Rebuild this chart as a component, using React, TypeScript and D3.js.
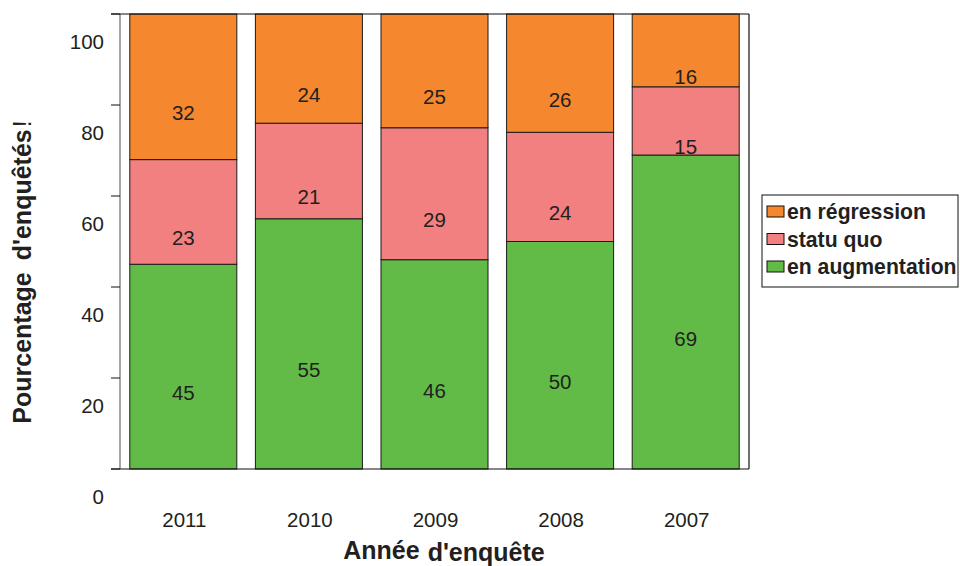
import React from "react";
import * as d3 from "d3";

const years = ["2011", "2010", "2009", "2008", "2007"];
const augmentation = [45, 55, 46, 50, 69];
const statuQuo = [23, 21, 29, 24, 15];
const regression = [32, 24, 25, 26, 16];
const seriesNames = ["en augmentation", "statu quo", "en régression"];
const seriesColors = ["#62BB47", "#F28080", "#F5872E"];
const yTicks = [0, 20, 40, 60, 80, 100];

const W = 960;
const H = 566;
const plotLeft = 120;
const plotRight = 749;
const plotTop = 14;
const plotBottom = 469;
const labelShift = 26;
const font = "'Liberation Sans', Arial, Helvetica, sans-serif";
const textColor = "#231F20";

export default function App() {
  const x = d3
    .scaleBand<string>()
    .domain(years)
    .range([plotLeft, plotRight])
    .paddingInner(0.148)
    .paddingOuter(0.078);
  const y = d3.scaleLinear().domain([0, 100]).range([plotBottom, plotTop]);

  const rows = years.map((yr, i) => ({
    year: yr,
    aug: augmentation[i],
    sq: statuQuo[i],
    reg: regression[i],
  }));
  const stack = d3.stack<any>().keys(["aug", "sq", "reg"]);
  const layers = stack(rows);

  const legendItems = [
    { name: seriesNames[2], color: seriesColors[2] },
    { name: seriesNames[1], color: seriesColors[1] },
    { name: seriesNames[0], color: seriesColors[0] },
  ];

  return (
    <svg
      width={W}
      height={H}
      style={{ position: "absolute", left: 0, top: 0, display: "block", background: "#fff" }}
      fontFamily={font}
    >
      <rect x={0} y={0} width={W} height={H} fill="#fff" />
      {/* bars */}
      {layers.map((layer, li) => (
        <g key={li}>
          {layer.map((d, i) => {
            const x0 = x(years[i])!;
            const yTop = y(d[1]);
            const yBot = y(d[0]);
            return (
              <rect
                key={i}
                x={x0}
                y={yTop}
                width={x.bandwidth()}
                height={yBot - yTop}
                fill={seriesColors[li]}
                stroke="#1a1a1a"
                strokeWidth={1}
              />
            );
          })}
        </g>
      ))}
      {/* value labels */}
      {layers.map((layer, li) => (
        <g key={"l" + li}>
          {layer.map((d, i) => (
            <text
              key={i}
              x={x(years[i])! + x.bandwidth() / 2}
              y={(y(d[0]) + y(d[1])) / 2 + labelShift}
              textAnchor="middle"
              dominantBaseline="central"
              fontSize={20.5}
              fill={textColor}
            >
              {d[1] - d[0]}
            </text>
          ))}
        </g>
      ))}
      {/* frame */}
      <line x1={plotLeft} x2={plotLeft} y1={plotTop} y2={plotBottom} stroke="#888" strokeWidth={1.5} />
      <line x1={plotLeft - 9} x2={plotRight} y1={plotTop} y2={plotTop} stroke="#111" strokeWidth={1.2} />
      <line x1={plotLeft - 9} x2={plotRight} y1={plotBottom} y2={plotBottom} stroke="#111" strokeWidth={1.2} />
      <line x1={plotRight} x2={plotRight} y1={plotTop} y2={plotBottom} stroke="#111" strokeWidth={1.2} />
      {/* y ticks */}
      {yTicks.map((t) => (
        <g key={t}>
          <line x1={plotLeft - 9} x2={plotLeft} y1={y(t)} y2={y(t)} stroke="#111" strokeWidth={1} />
          <text
            x={104}
            y={y(t) + labelShift + 1}
            textAnchor="end"
            dominantBaseline="central"
            fontSize={20.5}
            fill={textColor}
          >
            {t}
          </text>
        </g>
      ))}
      {/* x labels */}
      {years.map((yr) => (
        <text
          key={yr}
          x={x(yr)! + x.bandwidth() / 2 + 1}
          y={519}
          textAnchor="middle"
          dominantBaseline="central"
          fontSize={20.5}
          fill={textColor}
        >
          {yr}
        </text>
      ))}
      {/* axis titles */}
      <text x={444} y={559} textAnchor="middle" fontSize={25} fontWeight="bold" fill={textColor}>
        <tspan>Année</tspan>
        <tspan dx={8} dy={2}>d'enquête</tspan>
      </text>
      <text
        transform={`translate(31,${272}) rotate(-90)`}
        textAnchor="middle"
        fontSize={25}
        fontWeight="bold"
        fill={textColor}
      >
        <tspan>Pourcentage</tspan>
        <tspan dx={12}>d'enquêtés</tspan>
        <tspan fontWeight="normal" dx={2}>!</tspan>
      </text>
      {/* legend */}
      <rect x={762} y={195} width={196} height={92} fill="#fff" stroke="#111" strokeWidth={1} />
      {legendItems.map((it, i) => (
        <g key={it.name} transform={`translate(0,${219 + i * 27.5})`}>
          <rect x={767} y={-13} width={17} height={11} fill={it.color} stroke="#111" strokeWidth={1} />
          <text x={787} y={0} fontSize={21.2} fontWeight="bold" fill={textColor}>
            {it.name}
          </text>
        </g>
      ))}
    </svg>
  );
}
